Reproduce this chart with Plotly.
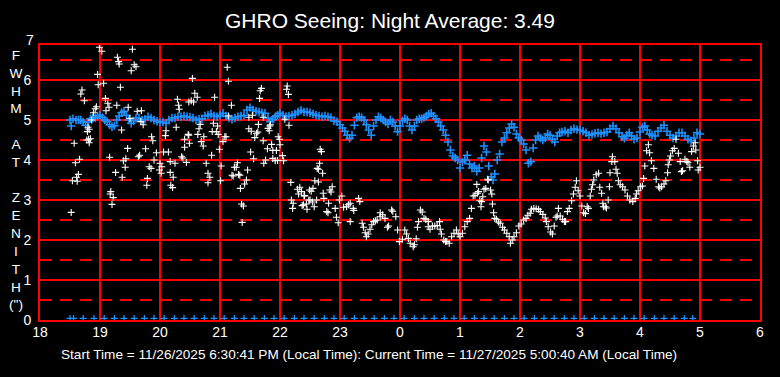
import plotly.graph_objects as go

# ---------------- data ----------------
title_text = "GHRO Seeing: Night Average: 3.49"
footer_text = ("Start Time = 11/26/2025 6:30:41 PM (Local Time): "
               "Current Time = 11/27/2025 5:00:40 AM (Local Time)")
y_title_letters = ["F", "W", "H", "M", "", "A", "T", "", "Z", "E", "N", "I", "T", "H", "(\")"]

x_tick_vals = [18, 19, 20, 21, 22, 23, 24, 25, 26, 27, 28, 29, 30]
x_tick_text = ["18", "19", "20", "21", "22", "23", "0", "1", "2", "3", "4", "5", "6"]
y_tick_vals = [0, 1, 2, 3, 4, 5, 6]
y_top_label = 7
y_max = 6.875

# blue series (hours since midnight of start day, FWHM arcsec)
blue_hours = [
    18.50, 18.52, 18.55, 18.60, 18.64, 18.68, 18.72, 18.76, 18.80, 18.84, 18.88, 18.92, 18.96,
    19.00, 19.04, 19.08, 19.12, 19.16, 19.20, 19.24, 19.28, 19.32, 19.36, 19.40, 19.44, 19.48,
    19.52, 19.56, 19.60, 19.65, 19.70, 19.75, 19.80, 19.85, 19.90, 19.95, 20.00, 20.05, 20.10,
    20.15, 20.20, 20.25, 20.30, 20.35, 20.40, 20.45, 20.50, 20.55, 20.60, 20.65, 20.70, 20.75,
    20.80, 20.85, 20.90, 20.95, 21.00, 21.05, 21.10, 21.15, 21.20, 21.25, 21.30, 21.35, 21.40,
    21.45, 21.50, 21.55, 21.60, 21.65, 21.70, 21.75, 21.80, 21.84, 21.88, 21.92, 21.96, 22.00,
    22.05, 22.10, 22.15, 22.20, 22.25, 22.30, 22.35, 22.40, 22.45, 22.50, 22.55, 22.60, 22.65,
    22.70, 22.75, 22.80, 22.85, 22.90, 22.95, 23.00, 23.04, 23.08, 23.12, 23.16, 23.20, 23.24,
    23.28, 23.32, 23.36, 23.40, 23.44, 23.48, 23.52, 23.56, 23.60, 23.64, 23.68, 23.72, 23.76,
    23.80, 23.84, 23.88, 23.92, 23.96, 24.00, 24.04, 24.08, 24.12, 24.16, 24.20, 24.24, 24.28,
    24.32, 24.36, 24.40, 24.44, 24.48, 24.52, 24.56, 24.60, 24.64, 24.68, 24.72, 24.76, 24.80,
    24.84, 24.88, 24.92, 24.96, 25.00, 25.04, 25.08, 25.12, 25.16, 25.20, 25.24, 25.28, 25.32,
    25.36, 25.40, 25.44, 25.48, 25.52, 25.55, 25.58, 25.62, 25.66, 25.70, 25.74, 25.78, 25.82,
    25.86, 25.90, 25.94, 25.98, 26.02, 26.06, 26.10, 26.14, 26.18, 26.22, 26.26, 26.30, 26.34,
    26.38, 26.42, 26.46, 26.50, 26.54, 26.58, 26.62, 26.66, 26.70, 26.75, 26.80, 26.85, 26.90,
    26.95, 27.00, 27.05, 27.10, 27.15, 27.20, 27.25, 27.30, 27.35, 27.40, 27.45, 27.50, 27.55,
    27.60, 27.65, 27.70, 27.74, 27.78, 27.82, 27.86, 27.90, 27.95, 28.00, 28.04, 28.08, 28.12,
    28.16, 28.20, 28.25, 28.30, 28.35, 28.40, 28.45, 28.50, 28.55, 28.60, 28.65, 28.70, 28.75,
    28.80, 28.85, 28.90, 28.95, 29.00]
blue_fwhm = [
    5.00, 4.85, 5.03, 5.00, 5.00, 5.00, 4.95, 4.87, 4.95, 5.03, 5.05, 5.06, 5.10,
    5.12, 5.06, 5.00, 4.96, 4.88, 4.83, 4.86, 5.00, 5.10, 5.18, 5.22, 5.12, 5.00,
    4.92, 4.98, 5.04, 5.05, 5.00, 5.02, 5.08, 5.05, 5.00, 4.97, 4.94, 4.95, 4.92,
    5.00, 5.05, 5.05, 5.08, 5.08, 5.10, 5.08, 5.07, 5.05, 5.00, 5.02, 5.03, 5.10,
    5.12, 5.15, 5.10, 5.08, 5.12, 5.17, 5.10, 5.05, 5.02, 5.05, 5.08, 5.10, 5.12,
    5.25, 5.31, 5.25, 5.22, 5.20, 5.18, 5.17, 5.05, 4.96, 5.02, 5.08, 5.12, 5.17,
    5.12, 5.08, 5.10, 5.12, 5.15, 5.20, 5.24, 5.20, 5.20, 5.18, 5.15, 5.12, 5.10,
    5.08, 5.10, 5.08, 5.06, 4.98, 4.96, 4.88, 4.80, 4.72, 4.62, 4.54, 4.62, 4.87,
    5.06, 5.08, 5.06, 5.00, 4.88, 4.75, 4.62, 4.85, 5.00, 5.08, 5.05, 5.00, 4.95,
    4.90, 5.00, 4.95, 4.85, 4.71, 4.85, 4.98, 5.03, 5.00, 4.85, 4.75, 4.85, 5.00,
    5.03, 5.03, 5.06, 5.10, 5.15, 5.17, 5.10, 5.03, 4.95, 4.85, 4.75, 4.62, 4.45,
    4.25, 4.10, 4.05, 4.00, 3.80, 3.95, 4.00, 4.12, 3.90, 3.80, 3.85, 3.72, 3.80,
    4.05, 4.35, 4.20, 3.85, 3.58, 3.50, 3.65, 4.00, 4.15, 4.45, 4.55, 4.68, 4.80,
    4.90, 4.82, 4.65, 4.55, 4.50, 4.40, 4.25, 3.92, 3.96, 4.30, 4.50, 4.60, 4.55,
    4.50, 4.55, 4.65, 4.62, 4.52, 4.45, 4.60, 4.68, 4.70, 4.72, 4.68, 4.75, 4.78,
    4.76, 4.75, 4.72, 4.68, 4.62, 4.64, 4.67, 4.68, 4.66, 4.68, 4.70, 4.78, 4.85,
    4.78, 4.68, 4.58, 4.54, 4.62, 4.68, 4.60, 4.52, 4.55, 4.70, 4.82, 4.85, 4.75,
    4.65, 4.62, 4.60, 4.72, 4.80, 4.87, 4.72, 4.62, 4.55, 4.60, 4.68, 4.68, 4.60,
    4.52, 4.48, 4.55, 4.68, 4.65]

# blue markers along the bottom (10-minute samples)
base_hours = [
    18.50, 18.56, 18.72, 18.90, 19.07, 19.24, 19.40, 19.57, 19.74, 19.90, 20.07, 20.24, 20.40,
    20.57, 20.74, 20.90, 21.07, 21.24, 21.40, 21.57, 21.74, 21.90, 22.07, 22.24, 22.40, 22.57,
    22.74, 22.90, 23.07, 23.24, 23.40, 23.57, 23.74, 23.90, 24.07, 24.24, 24.40, 24.57, 24.74,
    24.90, 25.07, 25.24, 25.40, 25.57, 25.74, 25.90, 26.07, 26.24, 26.40, 26.57, 26.74, 26.90,
    27.07, 27.24, 27.40, 27.57, 27.74, 27.90, 28.07, 28.24, 28.40, 28.57, 28.74, 28.88]
base_fwhm = [0.04] * len(base_hours)

# white series
white_hours = [
    18.52, 18.54, 18.57, 18.59, 18.61, 18.62, 18.64, 18.66, 18.68, 18.70, 18.74, 18.78, 18.79,
    18.80, 18.81, 18.82, 18.82, 18.84, 18.86, 18.89, 18.92, 18.94, 18.96, 18.97, 18.99, 19.00,
    19.03, 19.06, 19.09, 19.10, 19.13, 19.15, 19.16, 19.17, 19.18, 19.20, 19.22, 19.26, 19.28,
    19.29, 19.31, 19.32, 19.34, 19.36, 19.37, 19.39, 19.42, 19.43, 19.46, 19.47, 19.50, 19.52,
    19.54, 19.57, 19.60, 19.62, 19.64, 19.66, 19.68, 19.69, 19.72, 19.76, 19.78, 19.79, 19.82,
    19.85, 19.86, 19.88, 19.90, 19.94, 19.99, 20.00, 20.02, 20.03, 20.06, 20.09, 20.10, 20.14,
    20.17, 20.17, 20.18, 20.21, 20.22, 20.25, 20.27, 20.29, 20.31, 20.32, 20.36, 20.38, 20.41,
    20.41, 20.44, 20.47, 20.48,
    20.48, 20.49, 20.52, 20.54, 20.56, 20.58, 20.62, 20.63, 20.65, 20.67, 20.69, 20.72, 20.73,
    20.77, 20.80, 20.80, 20.83, 20.86, 20.87, 20.89, 20.91, 20.94, 20.96, 20.97, 20.99, 21.01,
    21.02, 21.05, 21.08, 21.10, 21.12, 21.14, 21.14, 21.19, 21.20, 21.22, 21.24, 21.27, 21.29,
    21.31, 21.33, 21.34, 21.36, 21.37, 21.39, 21.41, 21.44, 21.46, 21.48, 21.48, 21.51, 21.52,
    21.54, 21.56, 21.58, 21.61, 21.63, 21.64, 21.66, 21.67, 21.69, 21.72, 21.72, 21.73, 21.76,
    21.79, 21.80, 21.82, 21.83, 21.84, 21.86, 21.88, 21.88, 21.92, 21.94, 21.96, 21.97, 21.99,
    22.00, 22.04, 22.06, 22.08, 22.11, 22.12, 22.14, 22.15, 22.18, 22.19, 22.21, 22.22, 22.29,
    22.31, 22.33, 22.36, 22.37, 22.39, 22.40, 22.41, 22.44, 22.45, 22.48, 22.49, 22.50, 22.52,
    22.54, 22.55, 22.57, 22.58, 22.61, 22.62, 22.64,
    22.64, 22.66, 22.67, 22.69, 22.71, 22.72, 22.73, 22.78, 22.80, 22.81, 22.83, 22.85, 22.87,
    22.92, 22.94, 22.97, 22.99, 23.03, 23.06, 23.11, 23.14, 23.17, 23.17, 23.22, 23.23, 23.31,
    23.33, 23.37, 23.39, 23.42, 23.44, 23.47, 23.50, 23.53, 23.56, 23.59, 23.62, 23.67, 23.67,
    23.71, 23.75, 23.79, 23.81, 23.86, 23.88, 23.93, 23.96, 23.99, 24.04, 24.08, 24.11, 24.14,
    24.17, 24.22, 24.24, 24.27, 24.29, 24.31, 24.34, 24.37, 24.40, 24.43, 24.47, 24.47, 24.50,
    24.54, 24.58, 24.62, 24.66, 24.67, 24.69, 24.73, 24.76, 24.78, 24.82, 24.86, 24.90, 24.94,
    24.97, 25.00, 25.04, 25.08, 25.12, 25.16, 25.19, 25.22, 25.25, 25.28, 25.29, 25.31, 25.33,
    25.35, 25.36, 25.38, 25.40, 25.43, 25.46, 25.47, 25.51, 25.53, 25.54, 25.56, 25.58, 25.61,
    25.64, 25.67, 25.71, 25.74, 25.78, 25.82, 25.84, 25.87, 25.90, 25.94, 25.98, 26.02, 26.06,
    26.10, 26.13, 26.17, 26.19, 26.23, 26.27, 26.31, 26.34, 26.38, 26.42, 26.44, 26.47, 26.51,
    26.54, 26.57, 26.60, 26.62, 26.64, 26.67, 26.71, 26.74, 26.76, 26.79, 26.82, 26.86, 26.89,
    26.92, 26.94, 26.97, 27.00, 27.03, 27.06, 27.09, 27.12, 27.14, 27.17, 27.19, 27.21, 27.23,
    27.27, 27.31, 27.33, 27.36, 27.38, 27.39, 27.42, 27.44, 27.47, 27.49, 27.50, 27.53, 27.54,
    27.58, 27.60, 27.62, 27.64, 27.67, 27.71, 27.75, 27.79, 27.83, 27.88, 27.92, 27.94, 27.97,
    28.01, 28.04, 28.06, 28.08, 28.11, 28.14, 28.16, 28.19, 28.23, 28.27, 28.31, 28.33, 28.36,
    28.40, 28.43, 28.46, 28.47, 28.49, 28.51, 28.54, 28.57, 28.60, 28.64, 28.67, 28.69, 28.71,
    28.75, 28.78, 28.80, 28.83, 28.86, 28.89, 28.92, 28.93, 28.96, 28.97, 29.00]
white_fwhm = [
    2.69, 3.48, 4.42, 3.93, 3.57, 3.47, 3.64, 4.02, 5.65, 5.75, 5.48, 4.50, 4.71,
    4.82, 4.52, 4.77, 4.43, 4.53, 5.00, 5.18, 5.28, 5.33, 6.14, 5.88, 6.82, 6.93,
    6.72, 5.92, 5.54, 5.23, 5.42, 5.32, 4.07, 3.15, 3.21, 2.89, 3.06, 3.69, 5.37,
    6.57, 6.46, 6.40, 5.82, 4.75, 3.57, 3.98, 3.82, 4.03, 4.29, 5.32, 5.04, 6.23,
    6.77, 6.38, 6.33, 5.22, 4.08, 4.12, 4.96, 5.23, 4.88, 4.28, 3.37, 3.54, 3.83,
    3.79, 4.58, 4.48, 4.00, 4.18, 3.75, 3.92, 3.67, 3.83, 4.20, 4.61, 4.73, 4.20,
    3.96, 3.69, 3.37, 3.31, 3.57, 3.92, 4.82, 5.52, 5.37, 5.27, 4.08, 4.05, 4.52,
    4.32, 3.94, 4.64, 5.45,
    4.62, 4.42, 5.48, 6.04, 5.45, 5.67, 5.57, 4.64, 4.78, 4.89, 4.46, 4.35, 4.58,
    3.92, 3.67, 3.43, 3.57, 4.12, 4.71, 4.92, 5.57, 4.71, 4.85, 4.64, 4.27, 3.48,
    3.85, 4.46, 4.58, 4.58, 6.32, 5.97, 5.10, 5.37, 3.62, 3.60, 3.82, 3.82, 3.93,
    3.64, 3.62, 3.29, 2.90, 2.44, 2.85, 3.40, 3.50, 3.75, 5.07, 4.78, 4.20, 4.72,
    5.12, 4.03, 4.56, 4.67, 4.70, 4.89, 5.54, 5.73, 5.79, 5.07, 4.48, 3.92, 4.00,
    4.28, 4.79, 4.73, 4.85, 4.88, 4.39, 4.24, 4.04, 3.98, 4.24, 3.99, 4.58, 4.52,
    4.38, 4.11, 3.98, 5.02, 5.77, 5.85, 5.64, 4.87, 3.44, 3.00, 2.79, 2.92, 3.27,
    3.15, 3.32, 3.21, 2.86, 2.88, 3.10, 3.11, 2.90, 2.77, 3.00, 3.25, 3.00, 3.22,
    2.95, 3.29, 2.83, 3.48, 3.00, 3.79, 3.45,
    3.77, 3.92, 4.27, 4.21, 3.67, 3.17, 3.04, 2.71, 2.68, 2.92, 3.25, 3.20, 3.33,
    2.79, 2.57, 2.43, 3.00, 3.10, 2.82, 2.83, 2.88, 2.92, 2.46, 2.79, 2.74, 3.04,
    2.96, 2.42, 2.32, 2.18, 2.08, 2.15, 2.27, 2.38, 2.46, 2.48, 2.50, 2.58, 2.68,
    2.63, 2.54, 2.32, 2.35, 2.75, 2.72, 2.58, 2.25, 1.96, 2.02, 2.25, 2.15, 2.04,
    1.92, 1.83, 1.88, 2.03, 2.32, 2.46, 2.75, 2.70, 2.54, 2.52, 2.46, 2.33, 2.27,
    2.35, 2.35, 2.36, 2.46, 2.27, 2.15, 2.00, 1.96, 1.96, 1.92, 2.08, 2.17, 2.25,
    2.15, 2.08, 2.17, 2.33, 2.46, 2.54, 2.79, 3.10, 3.12, 3.39, 3.17, 3.21, 2.98,
    2.83, 2.96, 3.08, 3.27, 3.29, 3.52, 3.50, 3.25, 3.15, 2.90, 2.68, 2.54, 2.52,
    2.45, 2.42, 2.32, 2.25, 2.17, 2.08, 1.92, 2.00, 2.08, 2.18, 2.35, 2.40, 2.50,
    2.54, 2.62, 2.67, 2.77, 2.79, 2.78, 2.77, 2.71, 2.64, 2.55, 2.46, 2.33, 2.20,
    2.15, 2.35, 2.57, 2.60, 2.79, 2.60, 2.52, 2.46, 2.46, 2.71, 2.79, 2.98, 3.15,
    3.32, 3.48, 3.23, 3.10, 2.85, 2.68, 2.66, 2.83, 2.79, 3.10, 3.27, 3.38, 3.50,
    3.63, 3.67, 3.32, 3.17, 2.92, 2.83, 2.83, 2.80, 3.00, 3.33, 3.68, 3.96, 4.08,
    3.96, 3.77, 3.67, 3.48, 3.38, 3.33, 3.25, 3.10, 3.00, 2.96, 3.04, 3.15, 3.23,
    3.33, 3.35, 3.54, 3.85, 4.23, 4.38, 4.18, 3.98, 3.79, 3.52, 3.33, 3.30, 3.33,
    3.40, 3.48, 3.68, 3.88, 4.00, 4.10, 4.23, 4.29, 4.52, 4.17, 3.96, 3.71, 3.73,
    4.02, 3.96, 3.93, 3.82, 4.21, 4.35, 4.43, 4.25, 3.98, 3.75, 3.82]

# ---------------- styling ----------------
BG = "#000000"
GRID = "#FF0000"
BLUE = "#1E90FF"
WHITE = "#FFFFFF"
FONT = "Liberation Sans, Arial, sans-serif"

fig = go.Figure()

fig.add_trace(go.Scatter(
    x=base_hours, y=base_fwhm, mode="markers", cliponaxis=False,
    marker=dict(symbol="cross-thin", size=5, line=dict(color=BLUE, width=1.3), color=BLUE),
    hoverinfo="skip", showlegend=False))

fig.add_trace(go.Scatter(
    x=blue_hours, y=blue_fwhm, mode="markers",
    marker=dict(symbol="cross-thin", size=6, line=dict(color=BLUE, width=1.6), color=BLUE),
    hoverinfo="skip", showlegend=False))

fig.add_trace(go.Scatter(
    x=white_hours, y=white_fwhm, mode="markers", cliponaxis=False,
    marker=dict(symbol="cross-thin", size=5, line=dict(color=WHITE, width=1.1), color=WHITE),
    hoverinfo="skip", showlegend=False))

annotations = [
    dict(text="<br>".join(l if l else "\u00a0" for l in y_title_letters),
         xref="paper", yref="paper", x=-0.0333, y=0.508, xanchor="center", yanchor="middle",
         showarrow=False, align="center", font=dict(family=FONT, size=13.7, color=WHITE)),
    dict(text=footer_text, xref="paper", yref="paper", x=0.4576, y=-0.127,
         xanchor="center", yanchor="middle", showarrow=False,
         font=dict(family=FONT, size=13.6, color=WHITE)),
    dict(text=str(y_top_label), xref="paper", yref="paper", x=0, y=y_top_label / y_max,
         xanchor="right", yanchor="middle", xshift=-4, showarrow=False,
         font=dict(family=FONT, size=14, color=WHITE)),
]

fig.update_layout(
    width=780, height=377,
    margin=dict(l=40, r=20, t=45, b=57, autoexpand=False),
    paper_bgcolor=BG, plot_bgcolor=BG,
    title=dict(text=title_text, x=0.5, xanchor="center", y=0.945, yanchor="middle",
               font=dict(family=FONT, size=21, color=WHITE)),
    annotations=annotations,
    xaxis=dict(range=[18, 30], tickvals=x_tick_vals, ticktext=x_tick_text,
               showgrid=True, gridcolor=GRID, gridwidth=2, automargin=False,
               showline=True, linecolor=GRID, linewidth=2, mirror=True,
               zeroline=False, ticks="", ticklen=0, ticklabelstandoff=-2,
               tickfont=dict(family=FONT, size=14, color=WHITE)),
    yaxis=dict(range=[0, y_max], tickvals=y_tick_vals, automargin=False,
               showgrid=True, gridcolor=GRID, gridwidth=2,
               minor=dict(dtick=0.5, tick0=0, showgrid=True, gridcolor=GRID,
                          gridwidth=2, griddash="12px,8px"),
               showline=True, linecolor=GRID, linewidth=2, mirror=True,
               zeroline=False, ticks="", ticklabelstandoff=4,
               tickfont=dict(family=FONT, size=14, color=WHITE)),
)

fig.write_html("out.html", config={"displayModeBar": False},
               post_script="document.body.style.margin='0';document.body.style.background='#000';")
